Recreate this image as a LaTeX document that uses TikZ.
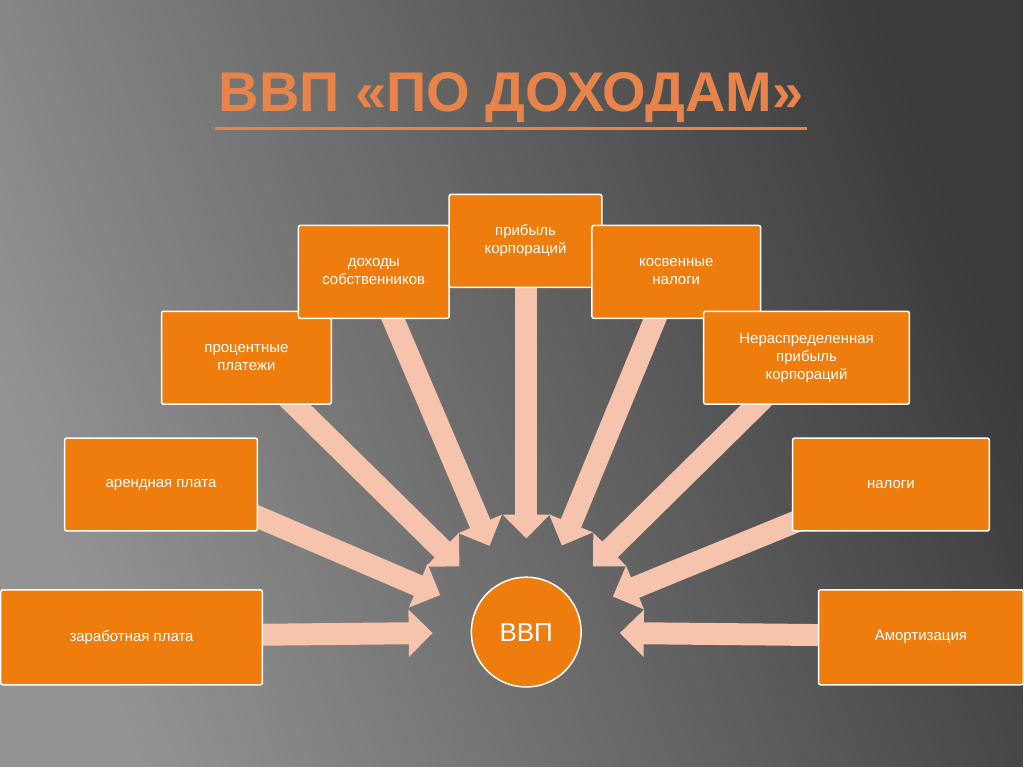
\documentclass[tikz,border=0pt]{standalone}
\usepackage{fontspec}
\setmainfont{Liberation Sans}
\usetikzlibrary{arrows.meta,backgrounds}
\definecolor{boxor}{HTML}{EE7D0E}
\definecolor{arrp}{HTML}{F6C3AC}
\definecolor{titor}{HTML}{E8834A}
\begin{document}
\begin{tikzpicture}[x=1pt,y=-1pt,
 box/.style={draw=white,line width=1.5pt,fill=boxor,rounded corners=2pt,text=white,font=\fontsize{15}{18}\selectfont,align=center,anchor=north west,inner sep=2pt},
 arr/.style={draw=arrp,line width=22pt,-{Triangle[width=46pt,length=24pt]},shorten >=38pt}]
\node (t) at (512,98) {\fontsize{56}{62}\selectfont\bfseries\color{titor}ВВП «ПО ДОХОДАМ»};
\coordinate (ul) at ([yshift=-2pt]t.south west);
\coordinate (ur) at ([yshift=-2pt]t.south east);
\draw[titor,line width=3pt] (ul) -- (ur);
\node[box,minimum width=262pt,minimum height=95pt] (a) at (0,590) {заработная плата};
\node[box,minimum width=193pt,minimum height=93pt] (b) at (64,438) {арендная плата};
\node[box,minimum width=170pt,minimum height=93pt] (c) at (161,311) {процентные\\платежи};
\node[box,minimum width=151pt,minimum height=93pt] (d) at (298,225) {доходы\\собственников};
\node[box,minimum width=153pt,minimum height=93pt,text height=28pt] (e) at (449,194) {прибыль\\корпораций};
\node[box,minimum width=169pt,minimum height=93pt] (f) at (592,225) {косвенные\\налоги};
\node[box,minimum width=206pt,minimum height=93pt] (g) at (704,311) {Нераспределенная\\прибыль\\корпораций};
\node[box,minimum width=197pt,minimum height=93pt] (h) at (793,438) {налоги};
\node[box,minimum width=205pt,minimum height=95pt] (i) at (819,590) {Амортизация};
\node[circle,draw=white,line width=1.5pt,fill=boxor,minimum size=110pt,text=white,font=\fontsize{26}{30}\selectfont] (v) at (527,633) {ВВП};
\begin{scope}[on background layer]
\shade[left color=gray!75!black, right color=black!75, shading angle=135] (0,0) rectangle (1024,768);
\fill[left color=white!55!gray,right color=black!70,opacity=0.7,shading angle=110] (0,0) rectangle (1024,768);
\draw[arr] (131,637) -- (v);
\draw[arr] (180,484) -- (v);
\draw[arr] (246,357) -- (v);
\draw[arr] (373,271) -- (v);
\draw[arr] (527,240) -- (v);
\draw[arr] (676,271) -- (v);
\draw[arr] (807,357) -- (v);
\draw[arr] (891,484) -- (v);
\draw[arr] (921,637) -- (v);
\end{scope}
\end{tikzpicture}
\end{document}
